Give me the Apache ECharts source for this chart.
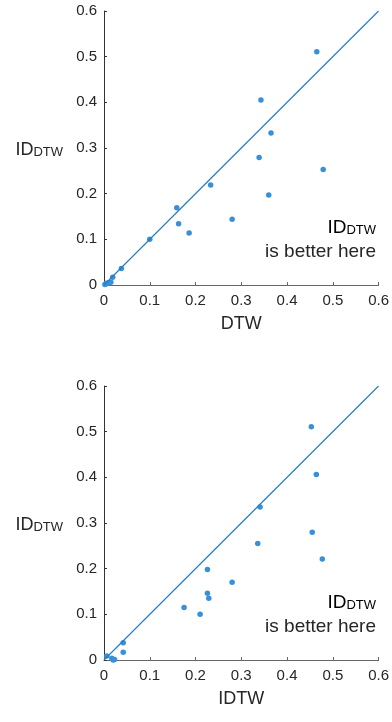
<!DOCTYPE html>
<html>
<head>
<meta charset="utf-8">
<script src="https://cdn.jsdelivr.net/npm/echarts@6/dist/echarts.min.js"></script>
<style>
  * { margin: 0; padding: 0; }
  html, body { width: 392px; height: 722px; background: #fff; }
  #chart { width: 392px; height: 722px; }
</style>
</head>
<body>
<div id="chart"></div>
<script>
  // top panel: DTW vs ID_DTW
  var dtwX = [0.465, 0.343, 0.365, 0.339, 0.479, 0.360, 0.233, 0.159, 0.163, 0.186, 0.280, 0.100, 0.038, 0.019, 0.015, 0.010, 0.005, 0.002, 0.004];
  var dtwY = [0.511, 0.405, 0.333, 0.279, 0.253, 0.197, 0.219, 0.169, 0.134, 0.114, 0.144, 0.100, 0.036, 0.017, 0.006, 0.005, 0.004, 0.001, 0.002];
  // bottom panel: IDTW vs ID_DTW
  var idtwX = [0.453, 0.464, 0.341, 0.455, 0.336, 0.477, 0.226, 0.280, 0.226, 0.229, 0.175, 0.210, 0.042, 0.042, 0.006, 0.017, 0.023, 0.020];
  var idtwY = [0.511, 0.406, 0.335, 0.280, 0.255, 0.221, 0.198, 0.170, 0.146, 0.135, 0.115, 0.100, 0.038, 0.017, 0.009, 0.004, 0.001, 0.000];
  // y = x reference line ends
  var diag = [0, 0.6];
  var xNames = ['DTW', 'IDTW'];

  var txt = '#262626';
  var dotColor = '#3a8fd6';
  var lineColor = '#1f7ac8';
  var font = 'Liberation Sans';
  var sub = {
    a: { fontSize: 18, fontFamily: font, color: txt, verticalAlign: 'bottom', lineHeight: 22 },
    b: { fontSize: 13, fontFamily: font, color: txt, verticalAlign: 'bottom', lineHeight: 11 }
  };
  var subNote = {
    a: { fontSize: 19, fontFamily: font, color: txt, verticalAlign: 'bottom', lineHeight: 23 },
    b: { fontSize: 13, fontFamily: font, color: txt, verticalAlign: 'bottom', lineHeight: 11 }
  };

  function pairs(xs, ys) {
    return xs.map(function (x, i) { return [x, ys[i]]; });
  }

  function axisX(i) {
    return {
      gridIndex: i, type: 'value', min: 0, max: 0.6, interval: 0.1,
      name: xNames[i], nameLocation: 'middle', nameGap: 30,
      nameTextStyle: { fontSize: 18, fontFamily: font, color: txt },
      axisLine: { show: true, lineStyle: { color: '#666', width: 1 } },
      axisTick: { show: true, inside: true, length: 3, lineStyle: { color: '#666' } },
      axisLabel: { fontSize: 15, fontFamily: font, color: txt, margin: 8 },
      splitLine: { show: false }
    };
  }

  function axisY(i) {
    return {
      gridIndex: i, type: 'value', min: 0, max: 0.6, interval: 0.1,
      name: '{a|ID}{b|DTW}', nameLocation: 'middle', nameGap: 41, nameRotate: 0,
      nameTextStyle: { rich: sub, align: 'right' },
      axisLine: { show: true, lineStyle: { color: '#333', width: 1 } },
      axisTick: { show: true, inside: true, length: 3, lineStyle: { color: '#333' } },
      axisLabel: { fontSize: 15, fontFamily: font, color: txt, margin: 7 },
      splitLine: { show: false }
    };
  }

  function note(y) {
    return [
      { type: 'text', right: 16, top: y, style: { text: '{a|ID}{b|DTW}', rich: subNote, align: 'right' } },
      { type: 'text', right: 16, top: y + 24, style: { text: 'is better here', fontSize: 19, fontFamily: font, fill: txt, align: 'right' } }
    ];
  }

  var chart = echarts.init(document.getElementById('chart'));
  chart.setOption({
    animation: false,
    grid: [
      { left: 104, top: 11, width: 275, height: 274 },
      { left: 104, top: 386, width: 275, height: 274 }
    ],
    xAxis: [axisX(0), axisX(1)],
    yAxis: [axisY(0), axisY(1)],
    graphic: note(218).concat(note(593)),
    series: [
      { type: 'line', xAxisIndex: 0, yAxisIndex: 0, data: pairs(diag, diag), symbol: 'none', color: lineColor, lineStyle: { color: lineColor, width: 1.1 } },
      { type: 'scatter', xAxisIndex: 0, yAxisIndex: 0, data: pairs(dtwX, dtwY), symbolSize: 5.5, itemStyle: { color: dotColor, opacity: 1 } },
      { type: 'line', xAxisIndex: 1, yAxisIndex: 1, data: pairs(diag, diag), symbol: 'none', color: lineColor, lineStyle: { color: lineColor, width: 1.1 } },
      { type: 'scatter', xAxisIndex: 1, yAxisIndex: 1, data: pairs(idtwX, idtwY), symbolSize: 5.5, itemStyle: { color: dotColor, opacity: 1 } }
    ]
  });
</script>
</body>
</html>
